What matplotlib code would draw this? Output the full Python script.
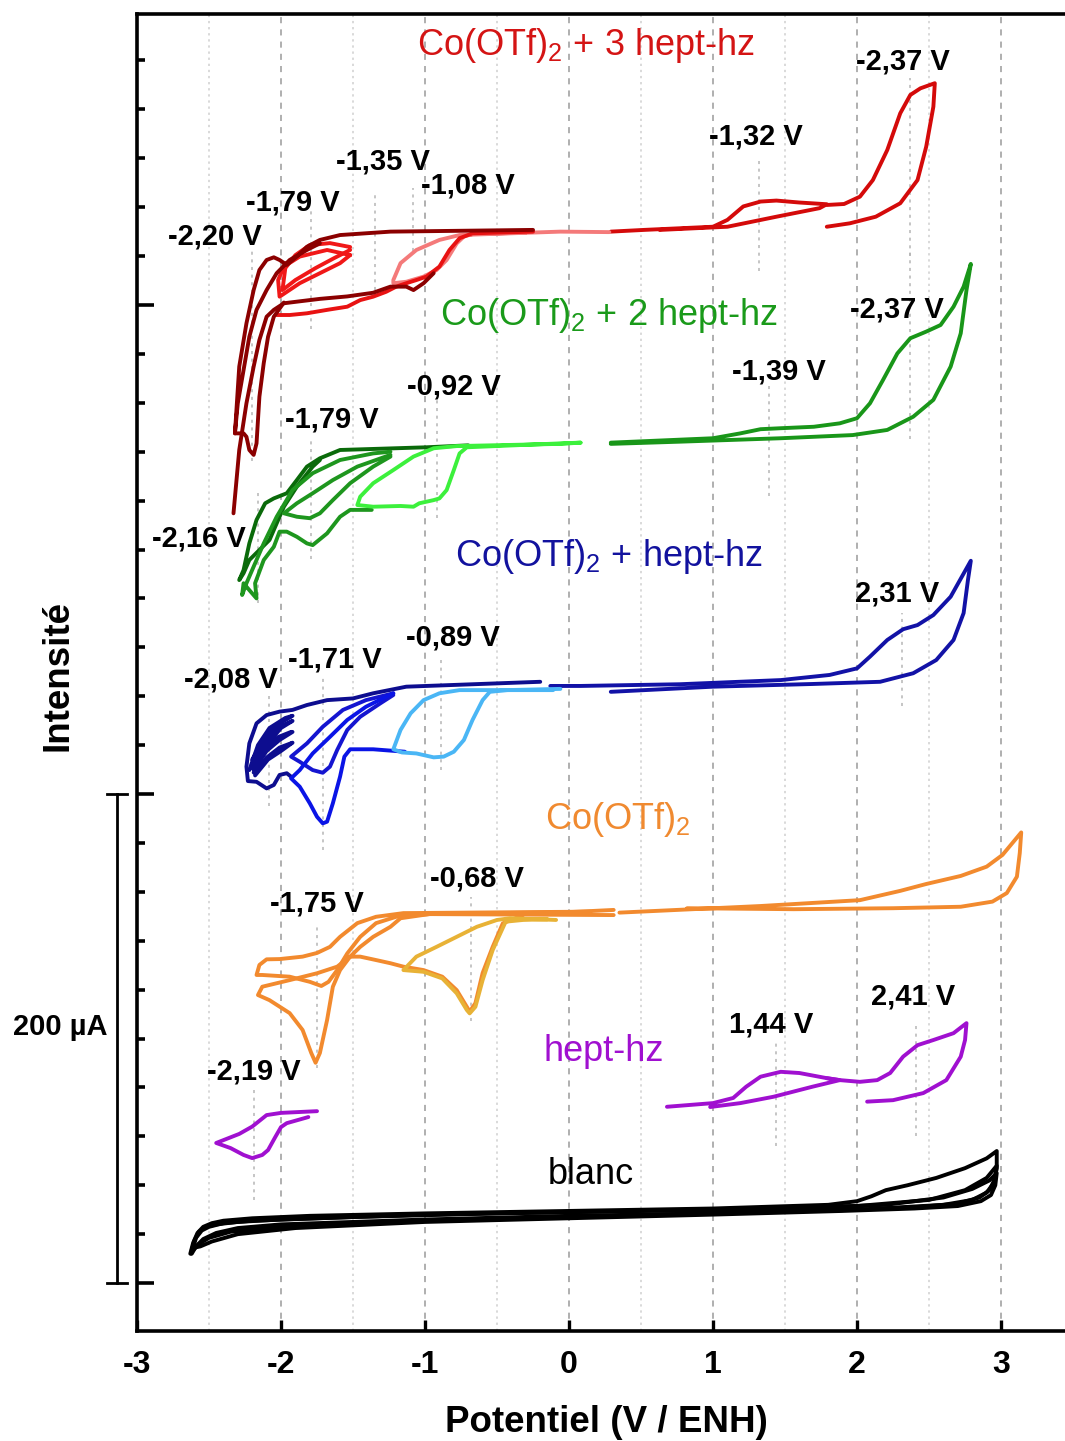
import matplotlib
matplotlib.use("Agg")
import matplotlib.pyplot as plt
from matplotlib.ticker import MultipleLocator

plt.rcParams['font.family'] = ['Liberation Sans', 'DejaVu Sans']
plt.rcParams['mathtext.fontset'] = 'custom'
plt.rcParams['mathtext.rm'] = 'Liberation Sans'
plt.rcParams['mathtext.it'] = 'Liberation Sans:italic'
plt.rcParams['mathtext.bf'] = 'Liberation Sans:bold'
plt.rcParams['mathtext.default'] = 'regular'
plt.rcParams['axes.unicode_minus'] = False

# -----------------------------
# Data (potential in V, current in uA, curves offset vertically)
# -----------------------------
# blanc
blanc1_v = [-2.63, -2.61, -2.58, -2.54, -2.48, -2.40, -2.20, -1.80, -1.00, 0.00, 1.00, 1.80, 2.00, 2.10, 2.20, 2.35, 2.55, 2.75, 2.90, 2.97, 2.97, 2.95, 2.90, 2.80, 2.60, 2.30, 2.00, 1.00, 0.00, -1.00, -2.00, -2.30, -2.45, -2.54, -2.59, -2.62]
blanc1_i = [12.0, 16.5, 20.5, 23.0, 24.5, 25.5, 26.5, 27.5, 28.5, 29.5, 30.5, 32.0, 33.5, 35.5, 38.0, 40.0, 43.0, 47.0, 51.0, 54.0, 47.0, 41.0, 37.0, 34.0, 32.0, 31.0, 30.0, 28.5, 27.5, 26.0, 24.0, 22.5, 20.5, 18.0, 15.0, 12.0]
blanc2_v = [-2.62, -2.60, -2.57, -2.52, -2.45, -2.30, -2.00, -1.00, 0.00, 1.00, 2.00, 2.50, 2.75, 2.90, 2.97, 2.96, 2.92, 2.85, 2.70, 2.40, 2.00, 1.00, 0.00, -1.00, -2.00, -2.35, -2.50, -2.57, -2.61]
blanc2_i = [13.5, 17.5, 21.0, 23.0, 24.0, 25.0, 26.0, 28.0, 29.0, 30.0, 31.5, 34.0, 38.0, 43.0, 48.0, 43.0, 38.0, 35.0, 32.5, 31.0, 30.0, 28.5, 27.0, 25.5, 23.0, 21.0, 18.5, 16.0, 13.5]
blanc3_v = [-2.61, -2.59, -2.55, -2.50, -2.40, -2.20, -1.50, -0.50, 0.50, 1.50, 2.20, 2.60, 2.80, 2.92, 2.97, 2.96, 2.93, 2.86, 2.70, 2.40, 1.90, 1.00, 0.00, -1.00, -1.90, -2.30, -2.48, -2.56, -2.60]
blanc3_i = [14.5, 18.5, 21.5, 23.0, 24.5, 25.5, 27.0, 28.5, 29.5, 30.5, 32.0, 35.0, 38.5, 42.0, 45.0, 40.0, 36.0, 33.5, 31.5, 30.5, 29.5, 28.0, 26.5, 25.0, 22.5, 20.0, 17.0, 15.0, 14.5]

# hept-hz
hz_left_v = [-1.75, -2.00, -2.10, -2.20, -2.29, -2.45, -2.35, -2.26, -2.20, -2.13, -2.09, -2.04, -2.00, -1.96, -1.81]
hz_left_i = [70.3, 69.6, 68.7, 64.0, 61.0, 57.3, 55.2, 52.4, 51.1, 52.4, 54.4, 59.7, 63.8, 65.4, 67.9]
hz_r1_v = [0.68, 1.00, 1.14, 1.23, 1.33, 1.47, 1.60, 1.79, 1.88, 1.69, 1.42, 1.19, 0.98]
hz_r1_i = [72.1, 73.6, 75.7, 80.3, 84.4, 86.4, 85.9, 83.8, 83.0, 80.3, 76.2, 73.6, 72.0]
hz_r2_v = [1.79, 1.88, 2.02, 2.14, 2.23, 2.32, 2.42, 2.53, 2.67, 2.76, 2.75, 2.72, 2.62, 2.46, 2.25, 2.07]
hz_r2_i = [83.8, 83.0, 82.3, 83.0, 85.9, 92.6, 97.3, 99.4, 102.2, 106.3, 99.4, 92.6, 83.0, 77.7, 74.8, 74.2]

# Co(OTf)2
co1_v = [-0.32, -0.46, -0.53, -0.60, -0.65, -0.69, -0.71, -0.78, -0.88, -1.01, -1.15, -1.24, -1.34, -1.45, -1.52, -1.61, -1.75, -1.94, -2.13, -2.16, -2.08, -1.94, -1.85, -1.79, -1.76, -1.73, -1.68, -1.64, -1.59, -1.52, -1.45, -1.36, -1.24, -1.17, -0.97, -0.48, 0.00, 0.31]
co1_i = [150.5, 147.1, 137.5, 126.8, 114.5, 111.0, 113.0, 119.8, 125.3, 128.0, 129.4, 130.8, 132.1, 133.5, 133.5, 129.4, 126.7, 123.9, 121.2, 117.8, 115.7, 110.4, 103.5, 94.1, 90.1, 94.1, 107.6, 121.2, 128.0, 133.5, 137.5, 141.6, 145.7, 149.2, 150.9, 151.3, 151.7, 152.6]
co2_v = [0.15, -1.15, -1.34, -1.47, -1.59, -1.66, -1.75, -1.85, -2.01, -2.10, -2.15, -2.17, -2.13, -1.94, -1.80, -1.72, -1.67, -1.61, -1.54, -1.45, -1.34, -1.20, -0.97, 0.31]
co2_i = [151.9, 151.3, 149.8, 147.2, 141.6, 137.5, 135.0, 133.5, 132.5, 132.4, 130.1, 126.0, 126.0, 125.3, 123.2, 121.5, 123.2, 128.0, 134.8, 141.6, 147.2, 149.8, 150.9, 150.5]
co_right_v = [0.35, 1.33, 2.02, 2.30, 2.48, 2.72, 2.90, 3.01, 3.14, 3.13, 3.11, 3.04, 2.94, 2.72, 2.25, 1.56, 0.82]
co_right_i = [151.5, 154.2, 156.6, 160.4, 163.2, 166.5, 170.3, 175.1, 184.3, 175.9, 166.2, 159.5, 156.0, 153.9, 153.3, 152.9, 153.3]
co_ox_v = [-0.09, -0.41, -0.50, -0.64, -0.78, -0.92, -1.06, -1.15, -1.01, -0.88, -0.78, -0.71, -0.69, -0.65, -0.60, -0.53, -0.44, -0.32, -0.15]
co_ox_i = [148.5, 149.2, 148.5, 145.7, 141.6, 137.5, 133.5, 128.0, 127.3, 124.6, 118.5, 111.7, 110.3, 113.0, 123.9, 136.2, 147.8, 148.5, 148.8]

# Co(OTf)2 + hept-hz
b_light_v = [-0.11, -0.57, -0.76, -0.90, -1.01, -1.10, -1.17, -1.22, -1.16, -1.06, -0.94, -0.87, -0.80, -0.73, -0.67, -0.60, -0.55, -0.43, -0.06]
b_light_i = [242.5, 242.5, 242.5, 241.2, 238.4, 233.0, 226.2, 218.3, 217.0, 216.6, 215.0, 215.3, 217.3, 222.1, 230.3, 238.4, 241.8, 242.5, 243.0]
b_peak_v = [-1.14, -1.36, -1.52, -1.56, -1.59, -1.64, -1.68, -1.71, -1.75, -1.80, -1.87, -1.93, -1.87, -1.78, -1.66, -1.54, -1.41, -1.27, -1.22]
b_peak_i = [217.3, 218.3, 218.3, 215.3, 207.1, 196.2, 188.7, 188.0, 190.7, 196.2, 203.0, 206.4, 209.8, 216.6, 223.4, 230.3, 235.7, 239.8, 241.2]
b_loop_v = [-1.22, -1.31, -1.45, -1.54, -1.61, -1.66, -1.71, -1.78, -1.87, -1.93, -1.82, -1.71, -1.57, -1.41, -1.22]
b_loop_i = [240.5, 237.1, 231.6, 226.2, 218.0, 211.2, 208.7, 209.8, 213.2, 215.3, 220.7, 227.5, 234.4, 238.4, 241.2]
b_navy_v = [-0.20, -1.13, -1.36, -1.50, -1.68, -1.82, -1.92, -2.01, -2.10, -2.17, -2.22, -2.24, -2.23, -2.17, -2.10, -2.05, -2.01, -1.96, -1.93]
b_navy_i = [245.9, 243.9, 241.2, 239.1, 238.4, 236.4, 234.4, 233.7, 232.3, 228.9, 220.7, 211.2, 205.3, 205.0, 202.3, 203.7, 207.8, 208.5, 207.1]
b_n1_v = [-2.22, -2.16, -2.08, -1.97, -1.92, -1.99, -2.10, -2.20]
b_n1_i = [209.8, 220.0, 227.0, 231.1, 232.0, 229.5, 224.2, 214.1]
b_n2_v = [-2.21, -2.13, -2.04, -1.94, -1.92, -2.00, -2.10, -2.19]
b_n2_i = [210.6, 220.0, 226.6, 229.4, 229.9, 227.0, 220.0, 212.3]
b_n3_v = [-2.20, -2.12, -2.02, -1.93, -1.92, -2.01, -2.10, -2.19]
b_n3_i = [210.6, 218.4, 223.3, 225.4, 225.4, 222.1, 217.6, 209.8]
b_n4_v = [-2.19, -2.10, -2.01, -1.92, -1.92, -2.00, -2.09, -2.18]
b_n4_i = [208.8, 214.9, 219.0, 221.0, 221.0, 217.6, 214.1, 207.6]
b_right_v = [-0.13, 0.08, 0.77, 1.47, 1.81, 2.00, 2.09, 2.21, 2.32, 2.42, 2.53, 2.65, 2.79, 2.77, 2.74, 2.67, 2.55, 2.39, 2.16, 1.69, 1.00, 0.29]
b_right_i = [244.2, 244.2, 244.9, 246.6, 248.7, 251.4, 256.2, 263.0, 267.4, 269.1, 273.2, 280.7, 295.4, 287.5, 274.0, 263.0, 254.8, 249.4, 245.9, 245.0, 243.9, 241.8]

# Co(OTf)2 + 2 hept-hz
g_light_v = [0.08, -0.06, -0.71, -0.76, -0.80, -0.85, -0.90, -0.94, -1.04, -1.08, -1.17, -1.36, -1.47, -1.45, -1.36, -1.22, -1.08, -0.94, -0.78, -0.06, 0.08]
g_light_i = [343.7, 343.4, 341.8, 339.3, 332.5, 324.3, 320.9, 320.2, 318.9, 317.5, 317.8, 317.5, 318.2, 321.6, 327.1, 332.5, 338.0, 341.4, 342.3, 343.2, 343.7]
g_mid_v = [-1.37, -1.52, -1.59, -1.68, -1.78, -1.82, -1.89, -1.96, -2.01, -2.05, -2.12, -2.18, -2.17, -2.22, -2.26, -2.27, -2.24, -2.19, -2.12, -2.03, -1.92, -1.78, -1.59, -1.36, -1.24]
g_mid_i = [316.2, 316.2, 313.4, 306.6, 301.8, 302.5, 305.2, 307.3, 307.3, 301.1, 295.7, 286.2, 280.0, 283.4, 286.2, 281.4, 286.2, 293.0, 302.5, 313.4, 324.3, 331.2, 336.6, 339.3, 340.0]
g_loop_v = [-1.24, -1.47, -1.64, -1.78, -1.89, -1.98, -1.89, -1.80, -1.73, -1.64, -1.52, -1.36, -1.24]
g_loop_i = [338.7, 333.9, 328.4, 323.0, 318.9, 314.8, 313.4, 312.8, 314.8, 320.2, 327.1, 333.9, 338.0]
g_dark_v = [-0.70, -0.99, -1.59, -1.73, -1.82, -1.89, -1.96, -2.05, -2.11, -2.17, -2.22, -2.26, -2.29, -2.26, -2.22, -2.15, -2.08, -2.03, -1.98, -1.89, -1.78, -1.73]
g_dark_i = [342.6, 341.8, 340.7, 337.3, 333.9, 328.4, 323.0, 320.9, 318.9, 312.1, 302.5, 291.6, 287.5, 290.3, 295.7, 299.8, 303.9, 310.7, 317.5, 325.7, 333.9, 336.6]
g_right_v = [0.29, 1.00, 1.19, 1.33, 1.47, 1.70, 1.88, 2.00, 2.09, 2.18, 2.28, 2.37, 2.48, 2.58, 2.67, 2.74, 2.79, 2.76, 2.72, 2.65, 2.53, 2.39, 2.21, 1.97, 1.47, 0.77, 0.29]
g_right_i = [343.7, 345.5, 347.5, 349.2, 349.6, 350.2, 351.6, 353.7, 359.8, 369.3, 380.2, 386.4, 389.1, 391.8, 399.3, 407.5, 416.8, 406.1, 388.4, 374.8, 361.2, 354.3, 348.9, 346.8, 345.5, 344.1, 343.2]

# Co(OTf)2 + 3 hept-hz
r_dark_v = [-0.25, -1.24, -1.59, -1.73, -1.82, -1.89, -1.96, -2.01, -2.05, -2.10, -2.15, -2.19, -2.24, -2.29, -2.32, -2.30, -2.26, -2.22, -2.17, -2.10, -2.03, -1.94, -1.82, -1.73]
r_dark_i = [430.7, 430.0, 428.6, 426.6, 423.8, 419.8, 416.4, 418.4, 419.5, 418.4, 414.3, 406.1, 392.5, 374.8, 347.5, 359.8, 373.4, 387.0, 398.0, 406.1, 413.0, 418.4, 422.5, 425.2]
r_dark2_v = [-2.33, -2.29, -2.24, -2.19, -2.15, -2.10, -2.05, -1.98, -1.87, -1.73, -1.54, -1.36, -1.24, -1.13, -1.08, -1.01, -0.94]
r_dark2_i = [314.8, 340.7, 359.8, 374.8, 385.7, 395.2, 398.0, 400.7, 401.5, 402.5, 403.5, 405.0, 407.5, 407.5, 406.1, 408.9, 413.0]
r_dark3_v = [-2.32, -2.26, -2.24, -2.22, -2.19, -2.17, -2.15, -2.12, -2.09, -2.05, -1.98]
r_dark3_i = [347.5, 347.5, 346.1, 340.7, 338.7, 343.4, 362.5, 376.2, 387.0, 395.2, 401.0]
r_l1_v = [-1.52, -1.68, -1.87, -1.98, -2.02, -2.01, -1.87, -1.73, -1.59, -1.52]
r_l1_i = [420.4, 422.5, 419.8, 415.7, 410.2, 403.4, 408.9, 413.0, 417.1, 420.4]
r_l2_v = [-1.52, -1.66, -1.80, -1.90, -1.97, -1.99, -1.90, -1.76, -1.63, -1.52]
r_l2_i = [423.7, 425.3, 424.5, 420.4, 415.1, 406.1, 410.2, 415.1, 419.2, 422.5]
r_low_v = [-2.03, -1.94, -1.82, -1.68, -1.54, -1.45, -1.36, -1.27, -1.20, -1.13, -1.06, -0.99, -0.90, -0.83, -0.76, -0.67, -0.25]
r_low_i = [395.9, 395.9, 396.6, 398.0, 399.3, 402.0, 403.4, 405.4, 407.5, 408.9, 410.2, 411.6, 415.7, 422.5, 427.3, 429.3, 430.0]
r_pink_v = [0.28, -0.06, -0.76, -0.90, -1.06, -1.17, -1.22, -1.22, -1.13, -1.01, -0.92, -0.85, -0.78, -0.73, -0.67, -0.30]
r_pink_i = [429.8, 430.0, 428.6, 426.6, 422.5, 417.1, 410.2, 408.9, 409.5, 411.6, 414.3, 418.4, 425.2, 428.0, 429.0, 429.6]
r_right1_v = [0.29, 0.52, 1.00, 1.10, 1.21, 1.33, 1.44, 1.60, 1.79, 1.74, 1.44, 1.10, 0.63]
r_right1_i = [430.0, 430.7, 432.0, 434.8, 440.3, 442.3, 442.7, 441.9, 441.2, 439.6, 436.1, 432.0, 430.7]
r_right2_v = [1.79, 1.91, 2.02, 2.11, 2.21, 2.30, 2.37, 2.44, 2.54, 2.53, 2.48, 2.42, 2.30, 2.13, 1.95, 1.79]
r_right2_i = [440.9, 441.3, 444.3, 451.1, 463.4, 478.4, 485.9, 488.6, 490.7, 481.1, 464.7, 451.1, 441.6, 436.1, 433.4, 432.0]

# peak labels: text, V, uA
peak_text = ["-1,35 V", "-1,08 V", "-1,79 V", "-2,20 V", "-1,32 V", "-2,37 V",
             "-2,37 V", "-1,39 V", "-0,92 V", "-1,79 V", "-2,16 V",
             "2,31 V", "-0,89 V", "-1,71 V", "-2,08 V",
             "-0,68 V", "-1,75 V", "-2,19 V", "1,44 V", "2,41 V"]
peak_tx = [-1.29, -0.70, -1.92, -2.46, 1.30, 2.32,
           2.28, 1.46, -0.80, -1.65, -2.57,
           2.28, -0.81, -1.625, -2.35,
           -0.64, -1.75, -2.19, 1.40, 2.39]
peak_ty = [458.5, 448.7, 442.1, 428.2, 469.1, 499.4,
           398.0, 373.0, 366.5, 353.0, 304.7,
           282.2, 264.2, 255.2, 247.0,
           165.6, 155.4, 86.7, 105.9, 117.0]

# peak markers: V, low, high
mark_v = [-2.20, -1.79, -1.35, -1.08, 1.32, 2.37,
          -1.79, -0.92, -2.16, 1.39, 2.37,
          -2.08, -1.71, -0.89, 2.31,
          -1.75, -0.68, -2.19, 1.44, 2.41]
mark_lo = [336, 390, 406, 422, 414, 420,
           296, 313, 278, 322, 345,
           195, 177, 210, 236,
           88, 107, 34, 56, 60]
mark_hi = [422, 439, 446, 448, 460, 493,
           345, 364, 323, 367, 422,
           241, 248, 256, 274,
           147, 158, 80, 99, 106]

# series labels
series_text = [r"Co(OTf)$_2$ + 3 hept-hz", r"Co(OTf)$_2$ + 2 hept-hz", r"Co(OTf)$_2$ + hept-hz",
               r"Co(OTf)$_2$", "hept-hz", "blanc"]
series_x = [0.12, 0.28, 0.28, 0.34, 0.24, 0.15]
series_y = [506.3, 395.5, 297.3, 189.4, 94.5, 44.2]
series_col = ["#d41414", "#1a9a1a", "#12129e", "#f08a30", "#a010d0", "black"]

# -----------------------------
# Figure
# -----------------------------
fig = plt.figure(figsize=(10.65, 14.41), dpi=100)
ax = fig.add_axes([137 / 1065, 110 / 1441, 928 / 1065, 1317 / 1441])
ax.set_xlim(-3, 3.444)
ax.set_ylim(-19.6, 519.0)

for xv in range(-2, 4):
    ax.axvline(xv, color="#9a9a9a", lw=1.1, ls=(0, (4, 4)), zorder=0)
for xv in [-2.5, -1.5, -0.5, 0.5, 1.5, 2.5]:
    ax.axvline(xv, color="#cfcfcf", lw=1.1, ls=(0, (1.5, 2.5)), zorder=0)

ax.vlines(mark_v, mark_lo, mark_hi, colors="#b5b5b5", lw=1.1, linestyles=(0, (2, 3)), zorder=1)

curves = [
    (blanc1_v, blanc1_i, "black"), (blanc2_v, blanc2_i, "black"), (blanc3_v, blanc3_i, "black"),
    (hz_left_v, hz_left_i, "#a010d0"), (hz_r1_v, hz_r1_i, "#a010d0"), (hz_r2_v, hz_r2_i, "#a010d0"),
    (co_right_v, co_right_i, "#f28a2e"), (co2_v, co2_i, "#f28a2e"), (co1_v, co1_i, "#f28a2e"),
    (co_ox_v, co_ox_i, "#e8b236"),
    (b_right_v, b_right_i, "#1212a6"), (b_navy_v, b_navy_i, "#0d0d8f"),
    (b_n1_v, b_n1_i, "#0d0d8f"), (b_n2_v, b_n2_i, "#0d0d8f"), (b_n3_v, b_n3_i, "#0d0d8f"), (b_n4_v, b_n4_i, "#0d0d8f"),
    (b_loop_v, b_loop_i, "#1515d0"), (b_peak_v, b_peak_i, "#0a14e6"), (b_light_v, b_light_i, "#4ab6f5"),
    (g_right_v, g_right_i, "#199619"), (g_dark_v, g_dark_i, "#0a6a0a"), (g_loop_v, g_loop_i, "#1e961e"),
    (g_mid_v, g_mid_i, "#1e961e"), (g_light_v, g_light_i, "#3cf03c"),
    (r_right1_v, r_right1_i, "#d40a0a"), (r_right2_v, r_right2_i, "#d40a0a"),
    (r_pink_v, r_pink_i, "#f47a7a"), (r_low_v, r_low_i, "#e81212"),
    (r_l1_v, r_l1_i, "#f01818"), (r_l2_v, r_l2_i, "#f01818"),
    (r_dark_v, r_dark_i, "#8b0000"), (r_dark2_v, r_dark2_i, "#8b0000"), (r_dark3_v, r_dark3_i, "#8b0000"),
]
for v, i, c in curves:
    ax.plot(v, i, color=c, lw=2.8, solid_joinstyle="round", solid_capstyle="round", zorder=3)

for t, x, y in zip(peak_text, peak_tx, peak_ty):
    ax.text(x, y, t, fontsize=21, fontweight="bold", ha="center", va="center", zorder=5)

for t, x, y, c in zip(series_text, series_x, series_y, series_col):
    ax.text(x, y, t, fontsize=26, color=c, ha="center", va="center", zorder=5)

# 200 uA scale bar
ax.plot([-3.139, -3.139], [0, 200], color="black", lw=2, clip_on=False)
ax.plot([-3.208, -3.069], [200, 200], color="black", lw=2, clip_on=False)
ax.plot([-3.208, -3.069], [0, 0], color="black", lw=2, clip_on=False)
ax.text(-3.535, 104.7, "200 µA", fontsize=21, fontweight="bold", ha="center", va="center")

# axes styling
ax.spines["right"].set_visible(False)
for s in ["left", "top", "bottom"]:
    ax.spines[s].set_linewidth(2.6)
ax.set_xticks(range(-3, 4))
ax.set_xticklabels([str(k) for k in range(-3, 4)], fontsize=23, fontweight="bold")
ax.set_yticks([0, 200, 400])
ax.set_yticklabels([])
ax.yaxis.set_minor_locator(MultipleLocator(20))
ax.tick_params(axis="x", which="major", direction="in", length=8, width=2.4, pad=14)
ax.tick_params(axis="y", which="major", direction="in", length=12, width=2.6)
ax.tick_params(axis="y", which="minor", direction="in", length=6, width=2.6)

fig.text(58 / 1065, 1 - 675 / 1441, "Intensité", rotation=90, fontsize=26.5,
         fontweight="bold", ha="center", va="center")
fig.text(606 / 1065, 1 - 1422 / 1441, "Potentiel (V / ENH)", fontsize=26.5,
         fontweight="bold", ha="center", va="center")

fig.savefig("out.png", dpi=100)
